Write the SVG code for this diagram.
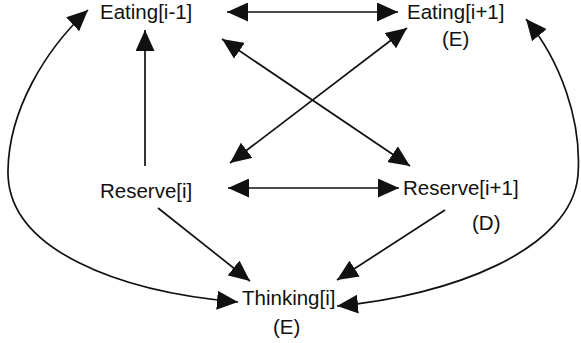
<svg xmlns="http://www.w3.org/2000/svg" width="581" height="343" viewBox="0 0 581 343">
  <style>
    .lbl { font-family: "Liberation Sans", Arial, sans-serif; font-size: 20.5px; fill: #111; }
    .edge { fill: none; stroke: #111; stroke-width: 1.7; }
    .one { marker-end: url(#head); }
    .two { marker-start: url(#head); marker-end: url(#head); }
  </style>
  <defs>
    <marker id="head" viewBox="0 0 21 19" refX="21" refY="9.5" markerWidth="21" markerHeight="19" markerUnits="userSpaceOnUse" orient="auto-start-reverse">
      <path d="M0,0 L21,9.5 L0,19 z" fill="#111"/>
    </marker>
  </defs>
  <rect width="581" height="343" fill="#fff"/>

  <g id="connectors">
    <!-- Eating[i-1] <-> Eating[i+1] -->
    <path class="edge two" d="M227,12 L398,12"/>
    <!-- Reserve[i] -> Eating[i-1] -->
    <path class="edge one" d="M145,166 L145,30"/>
    <!-- Eating[i-1] <-> Reserve[i+1] -->
    <path class="edge two" d="M222,39 L410,166"/>
    <!-- Reserve[i] <-> Eating[i+1] -->
    <path class="edge two" d="M230,163 L407,28"/>
    <!-- Reserve[i] <-> Reserve[i+1] -->
    <path class="edge two" d="M228,188 L399,188"/>
    <!-- Reserve[i] -> Thinking[i] -->
    <path class="edge one" d="M158,208 L250,281"/>
    <!-- Reserve[i+1] -> Thinking[i] -->
    <path class="edge one" d="M445,210 L337,280"/>
    <!-- Thinking[i] <-> Eating[i-1], outer left arc -->
    <path class="edge two" d="M238,302 C120,292 6,250 8,170 C9,110 45,50 88,10"/>
    <!-- Eating[i+1] <-> Thinking[i], outer right arc -->
    <path class="edge two" d="M526,19 C560,60 582,120 578,175 C572,250 450,296 337,306"/>
  </g>

  <g id="eating_prev">
    <text class="lbl" x="100" y="19">Eating[i-1]</text>
  </g>
  <g id="eating_next">
    <text class="lbl" x="407" y="19">Eating[i+1]</text>
    <text class="lbl" x="442" y="46">(E)</text>
  </g>
  <g id="reserve_cur">
    <text class="lbl" x="100" y="198">Reserve[i]</text>
  </g>
  <g id="reserve_next">
    <text class="lbl" x="403" y="195">Reserve[i+1]</text>
    <text class="lbl" x="472" y="230">(D)</text>
  </g>
  <g id="thinking_cur">
    <text class="lbl" x="242" y="305">Thinking[i]</text>
    <text class="lbl" x="273" y="334">(E)</text>
  </g>
</svg>
